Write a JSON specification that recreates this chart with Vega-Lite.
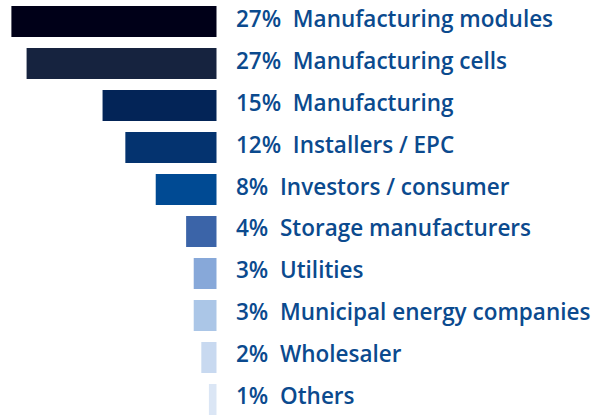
{
  "$schema": "https://vega.github.io/schema/vega-lite/v6.json",
  "width": 599,
  "height": 421,
  "autosize": {"type": "none"},
  "padding": 0,
  "background": "white",
  "config": {"view": {"stroke": null}},
  "data": {
    "values": [
      {"category": "Manufacturing modules", "value": 27, "label": "27%\u00a0 Manufacturing modules", "color": "#000018"},
      {"category": "Manufacturing cells", "value": 25, "label": "27%\u00a0 Manufacturing cells", "color": "#16233f"},
      {"category": "Manufacturing", "value": 15, "label": "15%\u00a0 Manufacturing", "color": "#032457"},
      {"category": "Installers / EPC", "value": 12, "label": "12%\u00a0 Installers / EPC", "color": "#04336f"},
      {"category": "Investors / consumer", "value": 8, "label": "8%\u00a0 Investors / consumer", "color": "#004a93"},
      {"category": "Storage manufacturers", "value": 4, "label": "4%\u00a0 Storage manufacturers", "color": "#3b64a8"},
      {"category": "Utilities", "value": 3, "label": "3%\u00a0 Utilities", "color": "#87a8d9"},
      {"category": "Municipal energy companies", "value": 3, "label": "3%\u00a0 Municipal energy companies", "color": "#abc6e7"},
      {"category": "Wholesaler", "value": 2, "label": "2%\u00a0 Wholesaler", "color": "#c8d9f0"},
      {"category": "Others", "value": 1, "label": "1%\u00a0 Others", "color": "#dbe6f5"}
    ]
  },
  "encoding": {
    "y": {
      "field": "category",
      "type": "nominal",
      "sort": null,
      "axis": null,
      "scale": {"paddingInner": 0.262, "paddingOuter": 0.143}
    }
  },
  "layer": [
    {
      "mark": {"type": "bar"},
      "encoding": {
        "x": {"field": "value", "type": "quantitative", "axis": null, "scale": {"domain": [0, 28.5], "nice": false, "zero": true, "range": [216.5, 0]}},
        "color": {"field": "color", "type": "nominal", "scale": null, "legend": null}
      }
    },
    {
      "mark": {"type": "text", "align": "left", "baseline": "middle", "dx": 19.5, "dy": -2, "font": "Open Sans", "fontSize": 22.5, "fontWeight": 600, "color": "#0b4a8e"},
      "encoding": {
        "x": {"datum": 0, "type": "quantitative"},
        "text": {"field": "label"}
      }
    }
  ]
}
